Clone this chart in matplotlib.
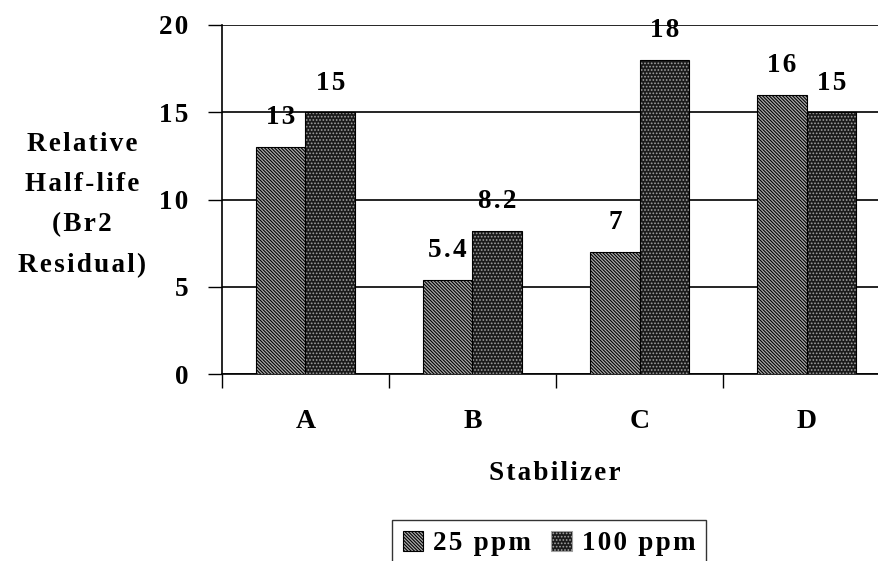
import numpy as np
import matplotlib
matplotlib.use('Agg')
import matplotlib.pyplot as plt
from matplotlib.patches import Patch

# data
categories = ['A', 'B', 'C', 'D']
ppm25 = [13, 5.4, 7, 16]
ppm100 = [15, 8.2, 18, 15]
labels25 = ['13', '5.4', '7', '16']
labels100 = ['15', '8.2', '18', '15']
yticks = [0, 5, 10, 15, 20]

plt.rcParams['font.family'] = ['Liberation Serif', 'DejaVu Serif']
plt.rcParams['font.weight'] = 'bold'
plt.rcParams['hatch.linewidth'] = 0.8

FS = 19.5


def spaced(s):
    # old excel output has wide letter spacing
    return '\n'.join('\u200a'.join(line) for line in s.split('\n'))


fig = plt.figure(figsize=(8.79, 5.61), dpi=100)
ax = fig.add_axes([222 / 879, 1 - 374 / 561, 657 / 879, (374 - 25) / 561])

x = np.arange(len(categories))
w = 0.296
h25 = '\\' * 10

# 25 ppm: grey with fine diagonal hatching
ax.bar(x - w / 2, ppm25, w, color='#ababab', edgecolor='black',
       hatch=h25, linewidth=0.8, zorder=3)
# 100 ppm: dark with light dots
ax.bar(x + w / 2, ppm100, w, color='#1a1a1a', edgecolor='#a0a0a0',
       hatch='.....', linewidth=0, zorder=3)
ax.bar(x + w / 2, ppm100, w, fill=False, edgecolor='black',
       linewidth=0.8, zorder=4)

for xi, v, t in zip(x - w / 2, ppm25, labels25):
    ax.annotate(spaced(t), (xi, v), xytext=(0, 21), textcoords='offset points',
                ha='center', va='center', fontsize=FS, fontweight='bold')
for xi, v, t in zip(x + w / 2, ppm100, labels100):
    ax.annotate(spaced(t), (xi, v), xytext=(0, 21), textcoords='offset points',
                ha='center', va='center', fontsize=FS, fontweight='bold')

ax.set_ylim(0, 20)
ax.set_xlim(-0.5, -0.5 + 657 / 167)
ax.set_yticks(yticks)
ax.set_yticklabels([spaced(str(t)) for t in yticks], fontsize=FS, fontweight='bold')
ax.tick_params(axis='y', length=10, width=1, pad=14)
ax.set_xticks(x)
ax.set_xticklabels(categories, fontsize=20, fontweight='bold')
ax.tick_params(axis='x', which='major', length=0, pad=25)
ax.set_xticks(np.arange(len(categories)) - 0.5, minor=True)
ax.tick_params(axis='x', which='minor', length=10, width=1)

ax.grid(axis='y', color='black', linewidth=1.2, zorder=0)
ax.set_axisbelow(True)
for s in ['top', 'right']:
    ax.spines[s].set_visible(False)
ax.spines['left'].set_linewidth(1.2)
ax.spines['bottom'].set_linewidth(1.2)

fig.text(82 / 879, 1 - 205 / 561, spaced('Relative\nHalf-life\n(Br2\nResidual)'),
         ha='center', va='center', fontsize=FS, fontweight='bold',
         linespacing=1.8)
fig.text(555 / 879, 1 - 474 / 561, spaced('Stabilizer'), ha='center', va='center',
         fontsize=FS, fontweight='bold')

handles = [Patch(facecolor='#ababab', edgecolor='black', hatch=h25, linewidth=0.8),
           Patch(facecolor='#1a1a1a', edgecolor='#a0a0a0', hatch='.....', linewidth=0.8)]
leg = fig.legend(handles, [spaced('25 ppm'), spaced('100 ppm')], loc='upper left',
                 bbox_to_anchor=(392 / 879, 1 - 520 / 561), ncol=2,
                 fontsize=FS, frameon=True, fancybox=False, edgecolor='black',
                 borderaxespad=0, handlelength=0.75, handleheight=0.75,
                 handletextpad=0.37, columnspacing=0.74, borderpad=0.4)
leg.get_frame().set_linewidth(1.0)

fig.savefig('out.png', dpi=100)
